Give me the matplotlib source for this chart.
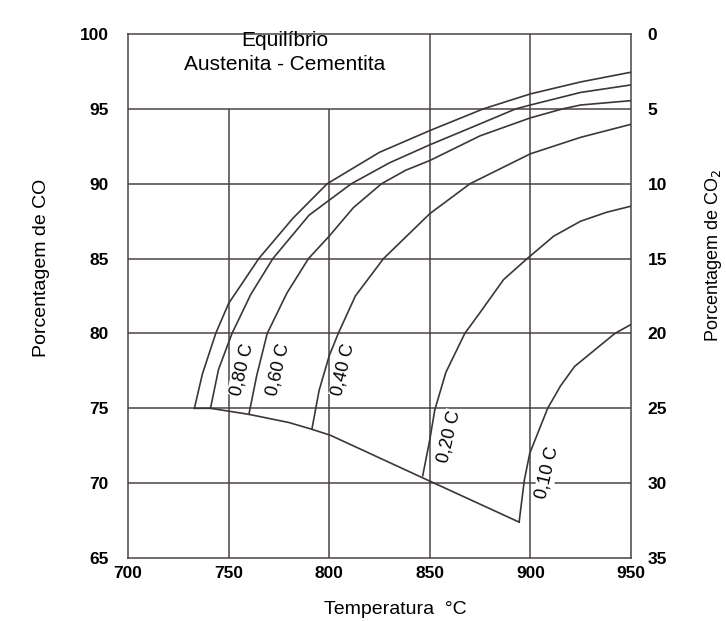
import numpy as np
import matplotlib
matplotlib.use("Agg")
import matplotlib.pyplot as plt

plt.rcParams['font.family'] = ['Liberation Sans', 'DejaVu Sans']

# Axis ticks
temp_ticks = [700, 750, 800, 850, 900, 950]
co_ticks = [65, 70, 75, 80, 85, 90, 95, 100]
co2_ticks = [0, 5, 10, 15, 20, 25, 30, 35]

# Grid lines
grid_co = [70, 75, 80, 85, 90, 95]
grid_t_short = [750, 800]      # stop at 95 %
grid_t_full = [850, 900]

# Boundary (lower limit of curves)
t_bound = [733, 741, 760, 780, 791.4, 800.6, 849, 894.4]
co_bound = [75.0, 75.0, 74.6, 74.05, 73.6, 73.2, 70.2, 67.4]

# Equilibrium curves
t_c1 = [733, 737, 743.6, 750, 765, 782, 799, 825, 850, 876.6, 900, 925, 950]
co_c1 = [75.0, 77.3, 80.0, 82.0, 85.0, 87.7, 90.0, 92.1, 93.55, 95.0, 96.0, 96.8, 97.45]

t_080 = [741, 745, 751.7, 761, 772, 790, 811, 830, 850, 875, 892.7, 900, 925, 950]
co_080 = [75.0, 77.6, 80.0, 82.6, 85.0, 87.9, 90.0, 91.4, 92.6, 94.0, 95.0, 95.26, 96.1, 96.6]

t_060 = [760.1, 764, 769.2, 779, 789.7, 800, 812, 826, 838, 850, 875, 900, 916, 925, 950]
co_060 = [74.6, 77.2, 80.0, 82.7, 85.0, 86.5, 88.4, 90.0, 90.9, 91.55, 93.2, 94.4, 95.0, 95.26, 95.55]

t_040 = [791.4, 795, 800, 804.5, 813, 827, 850, 870, 900, 925, 950]
co_040 = [73.6, 76.2, 78.5, 80.0, 82.5, 85.0, 88.0, 90.0, 92.0, 93.1, 93.97]

t_020 = [846.5, 850, 852.5, 858, 867.4, 875, 886.7, 898.4, 911.6, 925, 938, 950]
co_020 = [70.5, 72.9, 74.9, 77.4, 80.0, 81.4, 83.6, 85.0, 86.5, 87.5, 88.1, 88.5]

t_010 = [894.4, 897, 899.7, 908.6, 915, 922, 942, 950]
co_010 = [67.4, 70.2, 72.0, 75.0, 76.5, 77.8, 80.0, 80.6]

curve_labels = ["0,80 C", "0,60 C", "0,40 C", "0,20 C", "0,10 C"]
label_t = [756.5, 774.5, 807, 859.5, 908.5]
label_co = [77.6, 77.6, 77.6, 73.1, 70.7]

line_col = '#3d3636'
grid_col = '#4a4242'

fig = plt.figure(figsize=(7.26, 6.21), dpi=100)
ax = fig.add_axes([0.1763, 0.1014, 0.6928, 0.8438])

ax.set_xlim(700, 950)
ax.set_ylim(65, 100)

# grid
ax.hlines(grid_co, 700, 950, color=grid_col, lw=1.1, zorder=1)
ax.vlines(grid_t_short, 65, 95, color=grid_col, lw=1.1, zorder=1)
ax.vlines(grid_t_full, 65, 100, color=grid_col, lw=1.1, zorder=1)

# curves
ax.plot(t_bound, co_bound, color=line_col, lw=1.2, zorder=3)
for t, c in [(t_c1, co_c1), (t_080, co_080), (t_060, co_060),
             (t_040, co_040), (t_020, co_020), (t_010, co_010)]:
    ax.plot(t, c, color=line_col, lw=1.2, zorder=3, solid_joinstyle='round')

for txt, x, y in zip(curve_labels, label_t, label_co):
    ax.text(x, y, txt, rotation=77, ha='center', va='center', fontsize=13,
            zorder=2, rotation_mode='anchor',
            bbox=dict(facecolor='white', edgecolor='none', pad=0.5))

ax.text(778, 98.75, "Equilíbrio\nAustenita - Cementita", ha='center', va='center',
        fontsize=15, linespacing=1.3)

ax.set_xticks(temp_ticks)
ax.set_yticks(co_ticks)
ax.tick_params(axis='x', length=0, pad=6, labelsize=12.5)
ax.tick_params(axis='y', length=0, pad=14, labelsize=12.5)
for lab in ax.get_xticklabels() + ax.get_yticklabels():
    lab.set_fontweight('bold')

for sp in ax.spines.values():
    sp.set_color(grid_col)
    sp.set_linewidth(1.1)

# right axis: CO2 = 100 - CO
ax2 = ax.twinx()
ax2.set_ylim(35, 0)
ax2.set_yticks(co2_ticks)
ax2.tick_params(axis='y', length=0, pad=12, labelsize=12.5)
for lab in ax2.get_yticklabels():
    lab.set_fontweight('bold')
for sp in ax2.spines.values():
    sp.set_visible(False)

fig.text(42 / 726, 1 - 268 / 621, "Porcentagem de CO", rotation=90,
         ha='center', va='center', fontsize=14)
fig.text(714 / 726, 1 - 255 / 621, "Porcentagem de CO$_2$", rotation=90,
         ha='center', va='center', fontsize=13)
fig.text(395 / 726, 1 - 609 / 621, "Temperatura  °C", ha='center', va='center',
         fontsize=14)

fig.savefig("out.png", dpi=100, facecolor='white')
